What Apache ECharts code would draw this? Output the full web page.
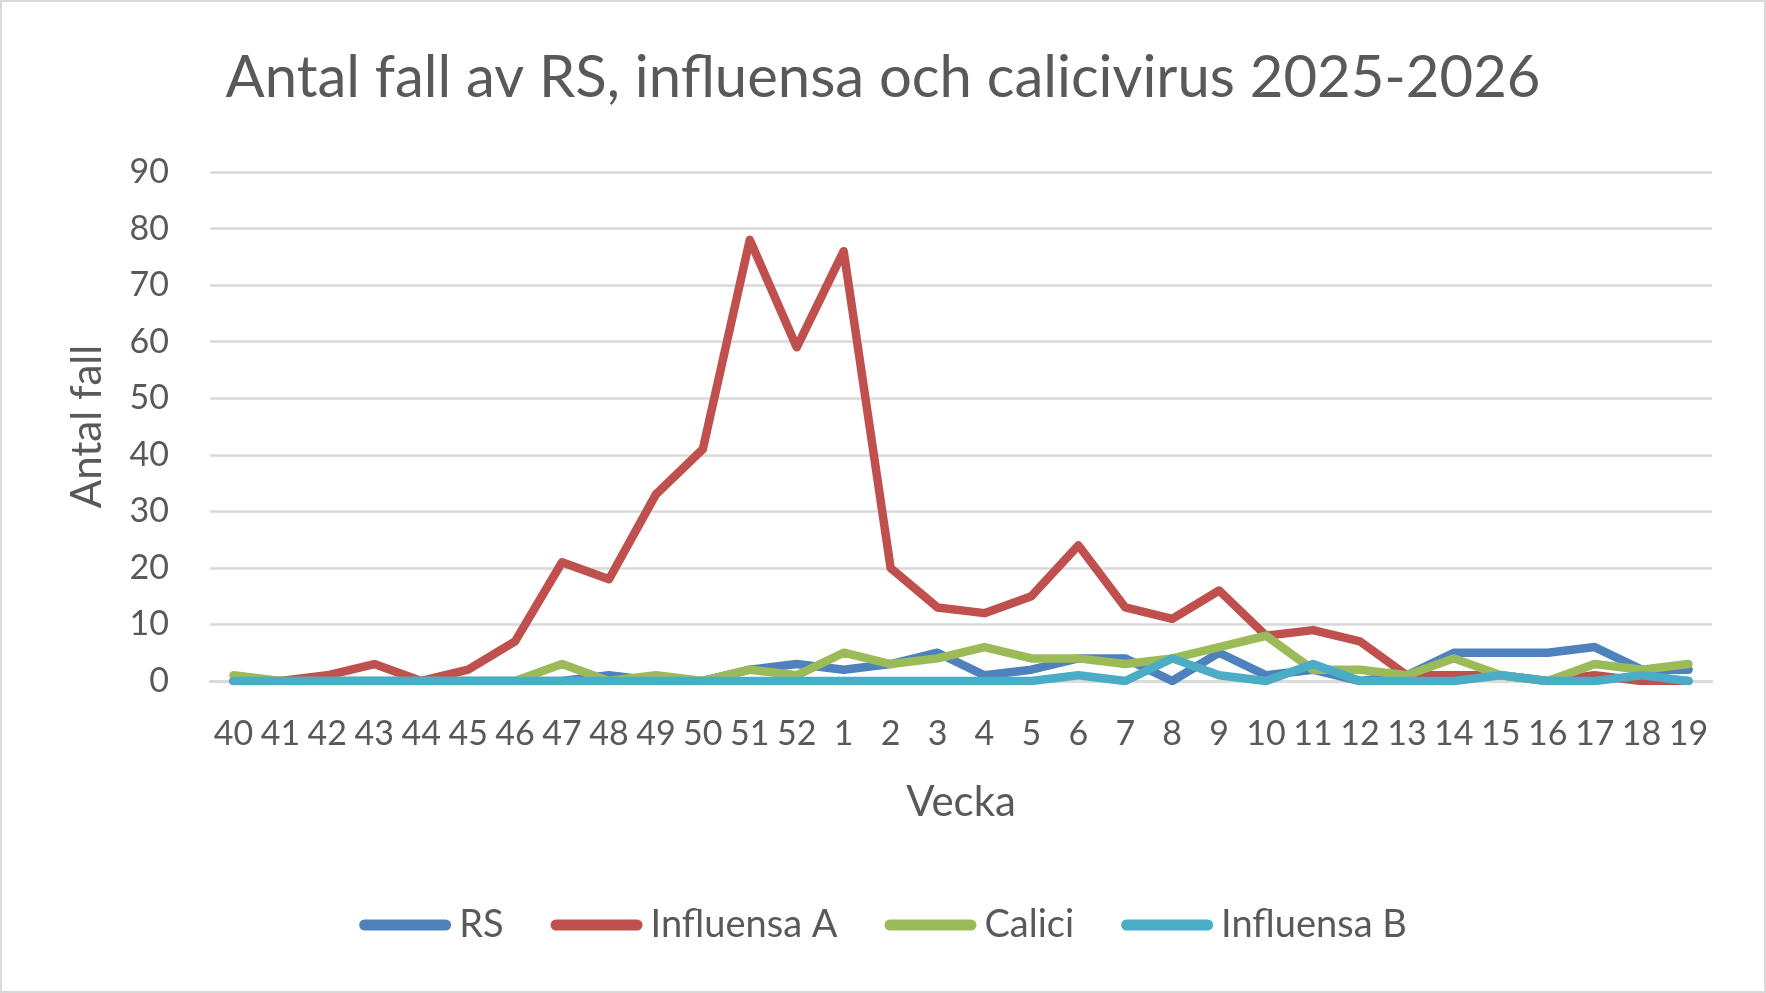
<!DOCTYPE html>
<html>
<head>
<meta charset="utf-8">
<script src="https://cdn.jsdelivr.net/npm/echarts@6/dist/echarts.min.js"></script>
<style>
  html, body { margin: 0; padding: 0; background: #fff; }
  #chart { width: 1766px; height: 993px; box-sizing: border-box; border: 2px solid #d9d9d9; }
</style>
</head>
<body>
<div id="chart"></div>
<script>
// veckor 40-52 (2025) och 1-19 (2026)
const weeks = ['40','41','42','43','44','45','46','47','48','49','50','51','52',
    '1','2','3','4','5','6','7','8','9','10','11','12','13','14','15','16','17','18','19'];

const rs =         [0,0,0,0,0,0,0,0,1,0,0,2,3, 2,3,5,1,2,4,4,0,5,1,2,0,1,5,5,5,6,2,2];
const influensaA = [0,0,1,3,0,2,7,21,18,33,41,78,59, 76,20,13,12,15,24,13,11,16,8,9,7,1,1,1,0,1,0,0];
const calici =     [1,0,0,0,0,0,0,3,0,1,0,2,1, 5,3,4,6,4,4,3,4,6,8,2,2,1,4,1,0,3,2,3];
const influensaB = [0,0,0,0,0,0,0,0,0,0,0,0,0, 0,0,0,0,0,1,0,4,1,0,3,0,0,0,1,0,0,1,0];

const names = ['RS', 'Influensa A', 'Calici', 'Influensa B'];
const colors = ['#4f81bd', '#c0504d', '#9bbb59', '#4bacc6'];
const values = [rs, influensaA, calici, influensaB];

const textColor = '#595959';
const font = 'Lato';

function makeSeries(name, data, color) {
    return {
        name: name,
        type: 'line',
        data: data,
        color: color,
        showSymbol: false,
        symbol: 'none',
        lineStyle: { width: 8.5, cap: 'round', join: 'round' }
    };
}

const chart = echarts.init(document.querySelector('#chart'));
chart.setOption({
    animation: false,
    textStyle: { fontFamily: font },
    title: {
        text: 'Antal fall av RS, influensa och calicivirus 2025-2026',
        left: 'center',
        top: 42,
        textStyle: { color: textColor, fontSize: 58, fontWeight: 'normal', fontFamily: font }
    },
    grid: { left: 208, right: 52, top: 170, bottom: 310 },
    xAxis: {
        type: 'category',
        data: weeks,
        name: 'Vecka',
        nameLocation: 'middle',
        nameGap: 100,
        nameTextStyle: { color: textColor, fontSize: 42, fontFamily: font },
        axisLine: { show: true, lineStyle: { color: '#d9d9d9', width: 2.5 } },
        axisTick: { show: false },
        axisLabel: { color: textColor, fontSize: 34, margin: 36, interval: 0, fontFamily: font }
    },
    yAxis: {
        type: 'value',
        min: 0,
        max: 90,
        interval: 10,
        name: 'Antal fall',
        nameLocation: 'middle',
        nameGap: 102,
        nameTextStyle: { color: textColor, fontSize: 42, fontFamily: font },
        axisLine: { show: false },
        axisTick: { show: false },
        axisLabel: { color: textColor, fontSize: 34, margin: 41, fontFamily: font },
        splitLine: { lineStyle: { color: '#d9d9d9', width: 2.5 } }
    },
    legend: {
        data: names,
        bottom: 42,
        left: 'center',
        itemWidth: 92,
        itemHeight: 11,
        itemGap: 47,
        icon: 'path://M5.5,0 L86.5,0 A5.5,5.5 0 0 1 86.5,11 L5.5,11 A5.5,5.5 0 0 1 5.5,0 Z',
        textStyle: { color: textColor, fontSize: 38, padding: [0, 0, 0, 3], fontFamily: font }
    },
    series: names.map((n, i) => makeSeries(n, values[i], colors[i]))
});
</script>
</body>
</html>
